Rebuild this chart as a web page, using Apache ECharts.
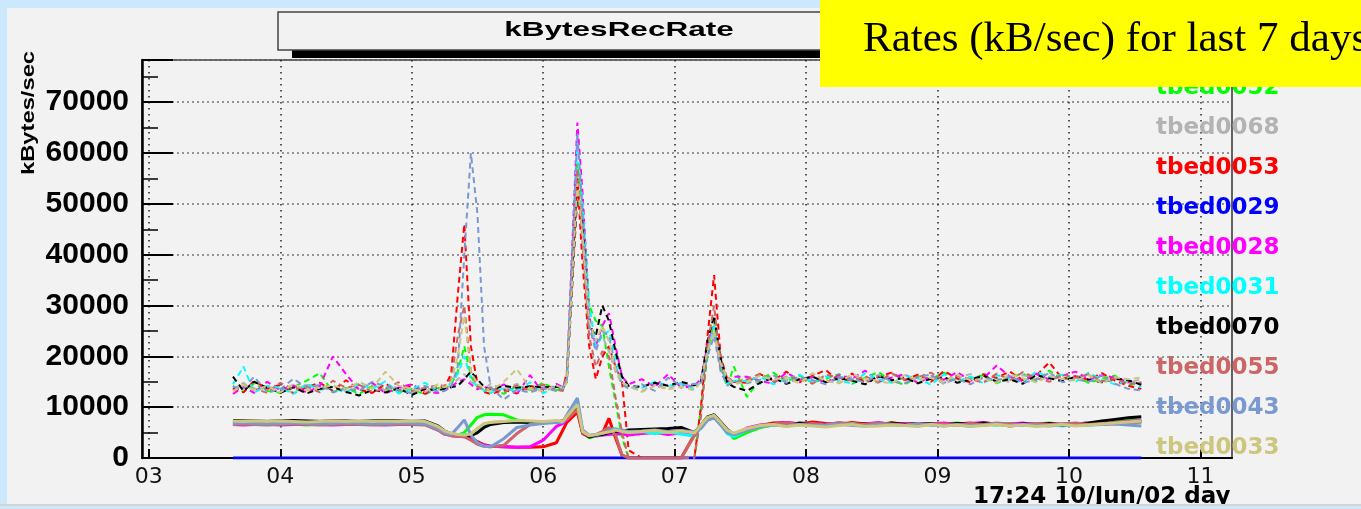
<!DOCTYPE html>
<html>
<head>
<meta charset="utf-8">
<title>kBytesRecRate</title>
<script src="https://cdn.jsdelivr.net/npm/echarts@6/dist/echarts.min.js"></script>
<style>
  html, body { margin: 0; padding: 0; background: #cbe8fd; }
  #chart { width: 1361px; height: 509px; }
</style>
</head>
<body>
<div id="chart"></div>
<script>
// sample times, in days of June 2002
const days = [
  3.64, 3.72, 3.8, 3.9, 4.0, 4.1, 4.2, 4.3, 4.4, 4.5, 4.6, 4.7, 4.8, 4.9, 5.0, 5.1, 5.2,
  5.25, 5.3, 5.35, 5.4, 5.45, 5.5, 5.55, 5.6,
  5.7, 5.8, 5.9, 6.0, 6.1, 6.15,
  6.18, 6.26, 6.3, 6.35, 6.4, 6.45, 6.5, 6.55, 6.6, 6.65,
  6.75, 6.85, 6.95, 7.05, 7.15,
  7.2, 7.25, 7.3, 7.35, 7.4, 7.45,
  7.55, 7.65, 7.75, 7.85, 7.95, 8.05, 8.15, 8.25, 8.35, 8.45, 8.55, 8.65, 8.75, 8.85, 8.95,
  9.05, 9.15, 9.25, 9.35, 9.45, 9.55, 9.65, 9.75, 9.85, 9.95, 10.05, 10.15, 10.25, 10.35, 10.45, 10.55
]
const dayTicks = [3, 4, 5, 6, 7, 8, 9, 10, 11]
const hosts = ['tbed0052', 'tbed0068', 'tbed0053', 'tbed0029', 'tbed0028', 'tbed0031', 'tbed0070', 'tbed0055', 'tbed0043', 'tbed0033']
const hostColors = ['#00ff00', '#b3b3b3', '#ff0000', '#0000ff', '#ff00ff', '#00ffff', '#000000', '#cc6666', '#7a99d0', '#ccc67e']

// upper band (dashed lines)
const tbed0052Dashed = [
  14200, 13000, 14600, 13200, 12800, 14000, 15200, 16700, 13000, 13800, 12600, 14200, 13500, 12900, 13600, 12500, 13800,
  13500, 14500, 17000, 22000, 16000, 14000, 13200, 13800,
  12600, 14200, 13400, 14800, 13300, 13800,
  16000, 58000, 50000, 30000, 27000, 26000, 18000, 11000, 4000, 0,
  0, 0, 0, 0, 0,
  10000, 20000, 27000, 18000, 14000, 18000,
  12000, 15500, 16800, 15000, 16200, 14800, 15600, 16500, 14600, 15800, 16900, 15200, 14400, 16100, 15500, 16800,
  14900, 15700, 16300, 14700, 15900, 16600, 15100, 17200, 15400, 16000, 14800, 15600, 16200, 14300, 14800
]
const tbed0068Dashed = [
  13500, 14800, 13200, 14000, 13600, 12900, 14400, 13800, 14200, 13100, 13900, 14500, 13300, 14100, 12800, 13700, 13400,
  13800, 14200, 15500, 16500, 15000, 14200, 13500, 14600,
  13500, 14600, 13200, 14000, 13700, 13400,
  15000, 56000, 45000, 26000, 22000, 24000, 21000, 17000, 14500, 14000,
  13200, 14500, 13600, 14800, 13900,
  15000, 21000, 25000, 17500, 15500, 14800,
  15800, 14600, 16200, 15400, 14900, 16600, 15200, 14700, 16000, 15300, 14800, 16400, 15600, 15000, 16200, 14500,
  15800, 16500, 15100, 15700, 14900, 16300, 15500, 16800, 15200, 15900, 16400, 15000, 15600, 14800, 15500
]
const tbed0053Dashed = [
  13800, 12900, 15200, 13600, 14400, 12700, 13900, 14800, 13200, 15300, 13500, 12800, 14600, 13300, 14200, 12600, 13900,
  14000, 16500, 32000, 46000, 22000, 14500, 13000, 12600,
  13400, 12700, 14200, 13600, 14000, 13500,
  17000, 55000, 38000, 22000, 15500, 20000, 22000, 18000, 15000, 1500,
  0, 0, 0, 0, 0,
  10000, 24000, 36000, 20000, 15500, 15000,
  14800, 16500, 15200, 17000, 14900, 16200, 17300, 15100, 16600, 14800, 15900, 16800, 15300, 16400, 15000, 17100,
  15600, 14900, 16500, 15800, 17000, 15300, 16200, 18800, 15600, 16100, 15400, 16700, 15200, 14200, 13600
]
const tbed0028Dashed = [
  12600, 14000, 12800, 15000, 13300, 14300, 12900, 14100, 20000, 16500, 13400, 14800, 12700, 13900, 14500, 13100, 12800,
  13300, 14000, 15000, 15500, 14500, 13500, 14200, 13000,
  14500, 12600, 16300, 12800, 14600, 13900,
  16000, 66000, 52000, 28000, 22000, 26000, 28500, 22000, 16000, 14500,
  15500, 14000, 16500, 13800, 14200,
  15500, 22000, 26000, 18000, 15000, 16000,
  16000, 15200, 14600, 16800, 15400, 15900, 14800, 16300, 15600, 17200, 15000, 15800, 16500, 14700, 16100, 15400,
  16900, 15200, 15700, 18200, 16000, 15100, 16600, 15400, 16200, 17000, 15500, 16300, 15800, 15000, 14600
]
const tbed0031Dashed = [
  14500, 18000, 12900, 14200, 13800, 12600, 14600, 13400, 13900, 12800, 14700, 13600, 15100, 12700, 13500, 14800, 13200,
  13800, 14800, 16500, 20000, 15500, 14000, 13300, 12800,
  13700, 13200, 14900, 12700, 14200, 13600,
  15500, 62000, 50000, 30000, 22000, 24000, 25000, 20000, 15000, 13800,
  13800, 15000, 14200, 14600, 13500,
  15000, 21000, 26000, 19000, 14500, 15200,
  15200, 16000, 14500, 15600, 16400, 14900, 16100, 15300, 14600, 16700, 15500, 14800, 16200, 15700, 14400, 16500,
  15100, 16000, 14700, 16300, 15600, 14800, 17000, 15900, 16400, 15000, 16800, 15300, 14500, 15200, 14000
]
const tbed0070Dashed = [
  16000, 13200, 15000, 13800, 12800, 13900, 12700, 13600, 14000, 13000, 12300, 13400, 12900, 13700, 12400, 13600, 13300,
  13600, 13900, 14200, 15500, 17000, 15500, 14000, 13400,
  14200, 13800, 14100, 13900, 14000, 13800,
  15000, 52000, 46000, 26000, 24000, 30000, 27000, 21000, 16000, 14200,
  14000, 14800, 14200, 15000, 14300,
  15000, 23000, 28000, 19500, 14800, 14000,
  13200, 14800, 15800, 14600, 15500, 16000, 14900, 15700, 15200, 14500, 16100, 15300, 15800, 14700, 15600, 15900,
  14800, 15400, 16200, 15000, 15500, 14600, 16300, 15700, 15100, 16000, 15400, 14900, 15600, 15300, 14400
]
const tbed0055Dashed = [
  13300, 14200, 13700, 12800, 14800, 13500, 14100, 12900, 15200, 13800, 14400, 13000, 13600, 14900, 13200, 13800, 14300,
  14200, 15500, 24000, 30000, 17000, 14000, 13400, 13900,
  12900, 14300, 13200, 14500, 13400, 13200,
  16500, 57000, 42000, 24000, 18000, 21000, 20000, 12000, 5000, 0,
  0, 0, 0, 0, 0,
  8000, 22000, 30000, 18000, 16000, 14800,
  15500, 16600, 15000, 16000, 15700, 14600, 16400, 15800, 15200, 16100, 14900, 16700, 15400, 15900, 16800, 15100,
  16200, 15500, 14800, 16600, 15300, 16900, 15700, 15000, 16400, 15800, 16500, 15100, 15700, 14500, 14900
]
const tbed0043Dashed = [
  14000, 13600, 16000, 13000, 13500, 15600, 13800, 14400, 12900, 13700, 13200, 15000, 14000, 13400, 12700, 14200, 13000,
  13200, 14000, 18000, 40000, 60000, 48000, 22000, 14000,
  11500, 13400, 12900, 13800, 13200, 14000,
  15500, 64000, 48000, 26000, 21000, 25000, 24000, 18000, 14500, 13600,
  14500, 13200, 15800, 14200, 14600,
  14500, 20000, 24000, 17000, 14300, 15000,
  14700, 15400, 16300, 14800, 15900, 15300, 14500, 16000, 15500, 14900, 16300, 15100, 14700, 15900, 16400, 14800,
  15600, 14500, 15900, 15200, 16100, 14800, 15400, 16700, 14900, 15500, 15000, 16200, 14600, 13600, 13300
]
const tbed0033Dashed = [
  13100, 14400, 13500, 14100, 12900, 14600, 13300, 13800, 14300, 13500, 15000, 13700, 17000, 14200, 13600, 13000, 14500,
  13900, 15000, 20000, 28000, 17000, 14500, 13800, 13200,
  15000, 17500, 13600, 13200, 14300, 13700,
  15000, 54000, 44000, 27000, 23000, 26000, 23000, 17500, 14800, 14200,
  13000, 14200, 13500, 14000, 13300,
  15200, 21000, 25000, 18500, 15800, 14600,
  14900, 16200, 15400, 15900, 14700, 16700, 15100, 14800, 16500, 15600, 15200, 14600, 16300, 15400, 15800, 14900,
  16400, 15300, 15600, 14800, 16500, 15700, 14900, 16100, 15600, 15200, 16300, 14700, 15900, 15500, 15800
]

// lower band (solid lines)
const tbed0052Solid = [
  6900, 6800, 6700, 6800, 6600, 6700, 6500, 6800, 6700, 6600, 6700, 6800, 6700, 6600, 6700, 6800, 5900,
  5000, 4600, 4500, 5000, 6500, 8000, 8500, 8600,
  8500, 7500, 7100, 7000, 7100, 7200,
  8000, 10500, 5000, 4000, 4300, 4500, 4800, 4600, 4800, 4700,
  4900, 5100, 4800, 5000, 4600,
  6500, 8000, 8300, 7000, 5500, 3800,
  5000, 6000, 6500, 6800, 6600, 6900, 6700, 6500, 6800, 6600, 6700, 6900, 6600, 6800, 6500, 6700,
  6900, 6600, 6700, 6500, 6800, 6600, 6700, 6900, 6600, 6800, 6700, 6900, 7100, 7400, 7500
]
const tbed0068Solid = [
  7300, 7300, 7200, 7300, 7300, 7200, 7300, 7300, 7300, 7200, 7300, 7300, 7200, 7300, 7300, 7200, 6200,
  5200, 4800, 4600, 4500, 4800, 5800, 6500, 7000,
  7200, 7300, 7200, 7100, 7200, 7300,
  8000, 10800, 5200, 4300, 4500, 4800, 5000, 5200, 5000, 4900,
  5000, 5200, 5100, 5300, 4800,
  6300, 7800, 8200, 6800, 5000, 4800,
  5600, 6200, 6500, 6400, 6700, 6500, 6600, 6800, 6500, 6400, 6700, 6600, 6500, 6800, 6600, 6500,
  6700, 6400, 6600, 6800, 6500, 6700, 6600, 6400, 6700, 6500, 6600, 6800, 7000, 7200, 7300
]
const tbed0053Solid = [
  6700, 6600, 6700, 6600, 6700, 6600, 6700, 6700, 6600, 6700, 6600, 6700, 6600, 6700, 6600, 6700, 5600,
  4800, 4500, 4400, 4300, 4000, 3200, 2600, 2300,
  2200, 2100, 2100, 2200, 3000, 5500,
  7000, 9000, 4800, 4200, 4500, 4800, 7800, 4000, 500, 0,
  0, 0, 0, 0, 4600,
  6200, 7800, 8300, 6900, 5400, 4500,
  5800, 6400, 6900, 7000, 6700, 7100, 6800, 6600, 7000, 6700, 6500, 6900, 6700, 6600, 6800, 6400,
  6700, 6900, 6500, 6700, 6300, 6600, 6800, 6500, 6700, 6600, 6800, 6600, 7000, 7100, 7200
]
const tbed0029Solid = [
  0, 0, 0, 0, 0, 0, 0, 0, 0, 0, 0, 0, 0, 0, 0, 0, 0,
  0, 0, 0, 0, 0, 0, 0, 0,
  0, 0, 0, 0, 0, 0,
  0, 0, 0, 0, 0, 0, 0, 0, 0, 0,
  0, 0, 0, 0, 0,
  0, 0, 0, 0, 0, 0,
  0, 0, 0, 0, 0, 0, 0, 0, 0, 0, 0, 0, 0, 0, 0, 0,
  0, 0, 0, 0, 0, 0, 0, 0, 0, 0, 0, 0, 0, 0, 0
]
const tbed0028Solid = [
  6600, 6500, 6600, 6700, 6500, 6600, 6700, 6600, 6500, 6600, 6700, 6600, 6500, 6600, 6700, 6600, 5500,
  4700, 4400, 4300, 4200, 3700, 3000, 2500, 2300,
  2200, 2100, 2200, 3500, 6200, 6800,
  7500, 10000, 5000, 4200, 4400, 4500, 4600, 4800, 4700, 4500,
  4800, 5000, 4600, 4900, 4700,
  6400, 7900, 8200, 6800, 5300, 4500,
  5900, 6500, 6600, 7000, 6700, 6800, 6600, 6900, 6500, 6700, 7000, 6600, 6800, 6500, 6700, 6900,
  6600, 6800, 7000, 6600, 6700, 6900, 6500, 6800, 6600, 6700, 6900, 6600, 6900, 7200, 7400
]
const tbed0031Solid = [
  7000, 6900, 7000, 7100, 6900, 7000, 6900, 7000, 7100, 6900, 7000, 6900, 6500, 6800, 6900, 7000, 6000,
  5200, 4800, 4600, 4500, 4700, 5500, 6500, 7000,
  7000, 7100, 7000, 7200, 7000, 7100,
  8200, 11400, 5300, 4200, 4500, 4700, 5500, 5800, 5300, 5000,
  5200, 4800, 5100, 4700, 4300,
  6000, 7600, 8000, 6600, 4800, 4200,
  5500, 6300, 6600, 6400, 6700, 6500, 6300, 6600, 6800, 6500, 6400, 6700, 6600, 6300, 6700, 6500,
  6600, 6200, 6700, 6500, 6600, 6400, 6700, 6600, 6300, 6600, 6500, 6700, 6800, 6900, 7000
]
const tbed0070Solid = [
  7400, 7300, 7300, 7200, 7300, 7400, 7300, 7200, 7300, 7300, 7200, 7300, 7400, 7300, 7200, 7300, 6300,
  5300, 4800, 4500, 4300, 4400, 5000, 6000, 6600,
  7000, 7100, 7000, 7200, 7100, 7300,
  8000, 10200, 5100, 4100, 4500, 4600, 5000, 5200, 5300, 5500,
  5600, 5700, 5800, 6000, 5000,
  6400, 8100, 8500, 7100, 5600, 4700,
  5600, 6300, 6700, 6400, 6900, 6700, 6500, 6800, 6600, 6700, 6500, 6900, 6600, 6800, 6700, 6500,
  6800, 6600, 6900, 6700, 6500, 6700, 6600, 6800, 6500, 6700, 6900, 7300, 7600, 7900, 8100
]
const tbed0055Solid = [
  6600, 6700, 6600, 6500, 6600, 6700, 6600, 6500, 6600, 6700, 6600, 6500, 6600, 6700, 6600, 6500, 5500,
  4700, 4400, 4300, 4200, 3500, 2700, 2300, 2200,
  2500, 4800, 6600, 7000, 7100, 7200,
  7600, 9500, 5000, 4300, 4600, 5200, 6000, 4500, 600, 0,
  0, 0, 0, 0, 4400,
  6200, 7700, 8200, 6800, 5300, 4600,
  5700, 6400, 6700, 6900, 6600, 6800, 6500, 7000, 6700, 6600, 6900, 6700, 6500, 6800, 6600, 6700,
  6400, 6800, 6600, 6900, 6700, 6500, 6800, 6600, 6700, 6900, 6600, 6800, 6900, 7000, 7100
]
const tbed0043Solid = [
  6800, 6900, 6800, 6700, 6800, 6900, 6800, 6700, 6800, 6900, 6800, 6700, 6800, 6900, 6800, 6700, 5700,
  4900, 4600, 6000, 7500, 4500, 3000, 2300, 2200,
  3800, 6000, 6500, 6800, 7000, 7200,
  8500, 11800, 5500, 4500, 4600, 4800, 5400, 5600, 5500, 5200,
  5300, 5500, 5200, 5400, 5100,
  5800, 7400, 7900, 6500, 5000, 4600,
  5400, 6200, 6500, 6300, 6600, 6400, 6500, 6700, 6400, 6300, 6600, 6500, 6400, 6700, 6500, 6300,
  6600, 6400, 6500, 6700, 6400, 6600, 6500, 6300, 6600, 6400, 6500, 6600, 6700, 6500, 6300
]
const tbed0033Solid = [
  7300, 7200, 7300, 7200, 7300, 7200, 7100, 7200, 7300, 7200, 7300, 7200, 7300, 7200, 7300, 7200, 6200,
  5300, 4900, 4600, 4500, 4700, 5800, 6800, 7000,
  7200, 7400, 7300, 7200, 7400, 7200,
  8200, 10500, 5200, 4400, 4600, 4900, 5100, 5500, 5200, 5000,
  5200, 5400, 5000, 5300, 4900,
  6500, 8000, 8400, 7000, 5500, 4900,
  5800, 6400, 6600, 6200, 6500, 6300, 6100, 6400, 6600, 6200, 6300, 6500, 6400, 6200, 6600, 6300,
  6500, 6200, 6400, 6600, 6300, 6500, 6200, 6400, 6600, 6300, 6500, 6700, 6900, 7100, 7300
]

const dashedData = [tbed0052Dashed, tbed0068Dashed, tbed0053Dashed, null, tbed0028Dashed,
  tbed0031Dashed, tbed0070Dashed, tbed0055Dashed, tbed0043Dashed, tbed0033Dashed]
const solidData = [tbed0052Solid, tbed0068Solid, tbed0053Solid, tbed0029Solid, tbed0028Solid,
  tbed0031Solid, tbed0070Solid, tbed0055Solid, tbed0043Solid, tbed0033Solid]

const BG = '#f2f2f2'
const OUTER = '#cbe8fd'

function makeLine(name, color, values, dashed) {
  return {
    name: name,
    type: 'line',
    data: days.map((d, k) => [d, values[k]]),
    symbol: 'none',
    silent: true,
    animation: false,
    itemStyle: { color: color },
    lineStyle: dashed
      ? { color: color, width: 2, type: [6, 4] }
      : { color: color, width: 3 }
  }
}

let series = []
hosts.forEach((h, i) => {
  if (dashedData[i]) series.push(makeLine(h, hostColors[i], dashedData[i], true))
  series.push(makeLine(h, hostColors[i], solidData[i], false))
})

const myChart = echarts.init(document.getElementById('chart'))
myChart.setOption({
  backgroundColor: BG,
  animation: false,
  grid: {
    left: 142, right: 129, top: 60, bottom: 51,
    show: true, borderColor: '#333', borderWidth: 1.5
  },
  legend: {
    orient: 'vertical',
    left: 1145,
    top: 70,
    z: 1,
    itemWidth: 0,
    itemHeight: 0,
    itemGap: 14,
    selectedMode: false,
    textStyle: { fontFamily: 'DejaVu Sans', fontWeight: 'bold', fontSize: 23, lineHeight: 26 },
    data: hosts.map((h, i) => ({ name: h, textStyle: { color: hostColors[i] } }))
  },
  xAxis: {
    type: 'value',
    min: 2.948,
    max: 11.24,
    axisLine: { show: true, onZero: false, lineStyle: { color: '#000', width: 2 } },
    axisTick: { show: true, inside: true, length: 9, customValues: dayTicks, lineStyle: { color: '#000', width: 2 } },
    axisLabel: {
      customValues: dayTicks,
      fontFamily: 'DejaVu Sans', fontSize: 22, color: '#111', margin: 8,
      formatter: v => (v < 10 ? '0' : '') + v
    },
    splitLine: { show: true, lineStyle: { color: '#222', width: 1.5, type: [1.5, 4.5] } }
  },
  yAxis: {
    type: 'value',
    min: 0,
    max: 78300,
    interval: 10000,
    axisLine: { show: true, lineStyle: { color: '#000', width: 2.5 } },
    axisTick: { show: true, inside: true, length: 31, lineStyle: { color: '#000', width: 2 } },
    minorTick: { show: true, splitNumber: 2, length: 16, lineStyle: { color: '#000', width: 1.5 } },
    axisLabel: {
      fontFamily: 'Liberation Sans', fontWeight: 'bold', fontSize: 30, color: '#000', margin: 13,
      showMaxLabel: false,
      formatter: v => String(v)
    },
    splitLine: { show: true, lineStyle: { color: '#777', width: 1.5, type: [2, 3] } }
  },
  graphic: [
    // title pave with shadow
    { type: 'rect', z: 10, shape: { x: 292, y: 26, width: 682, height: 32 }, style: { fill: '#000' } },
    { type: 'rect', z: 11, shape: { x: 278, y: 12, width: 682, height: 38 }, style: { fill: BG, stroke: '#444', lineWidth: 1.5 } },
    {
      type: 'text', z: 12, x: 619, y: 30, scaleX: 1.5,
      style: { text: 'kBytesRecRate', font: 'bold 21px "Liberation Sans"', fill: '#000', align: 'center', verticalAlign: 'middle' }
    },
    // y axis title
    {
      type: 'text', z: 12, x: 29, y: 113, rotation: Math.PI / 2, scaleX: 1.25,
      style: { text: 'kBytes/sec', font: 'bold 19px "Liberation Sans"', fill: '#000', align: 'center', verticalAlign: 'middle' }
    },
    // time stamp
    {
      type: 'text', z: 12, x: 973, y: 497,
      style: { text: '17:24 10/Jun/02 day', font: 'bold 23px "DejaVu Sans"', fill: '#000', align: 'left', verticalAlign: 'middle' }
    },
    // page frame
    { type: 'rect', z: 100, shape: { x: 0, y: 0, width: 1361, height: 8 }, style: { fill: OUTER } },
    { type: 'rect', z: 100, shape: { x: 0, y: 0, width: 7, height: 509 }, style: { fill: OUTER } },
    { type: 'rect', z: 100, shape: { x: 0, y: 504, width: 1361, height: 2 }, style: { fill: '#d4d4d4' } },
    { type: 'rect', z: 100, shape: { x: 0, y: 506, width: 1361, height: 3 }, style: { fill: OUTER } },
    // yellow note
    { type: 'rect', z: 110, shape: { x: 820, y: 0, width: 541, height: 87 }, style: { fill: '#ffff00' } },
    {
      type: 'text', z: 111, x: 863, y: 40,
      style: { text: 'Rates (kB/sec) for last 7 days', font: '43px "Liberation Serif"', fill: '#000', align: 'left', verticalAlign: 'middle' }
    }
  ],
  series: series
})
</script>
</body>
</html>
